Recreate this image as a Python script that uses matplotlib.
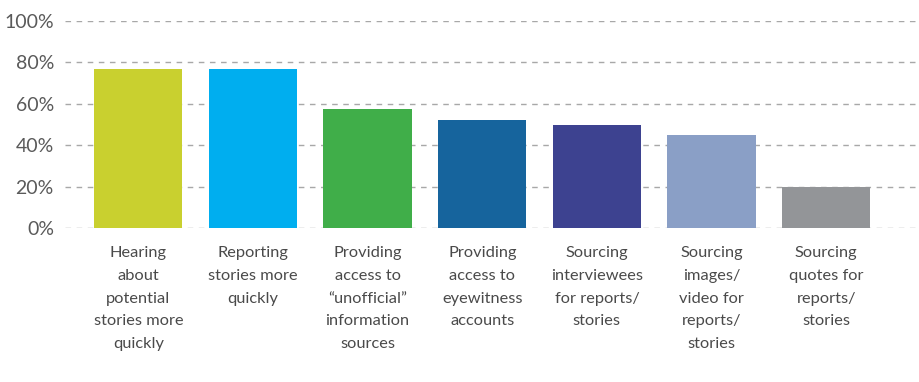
import matplotlib.pyplot as plt
from matplotlib.ticker import PercentFormatter

plt.rcParams['font.family'] = ['Lato', 'DejaVu Sans']

categories = [
    "Hearing\nabout\npotential\nstories more\nquickly",
    "Reporting\nstories more\nquickly",
    "Providing\naccess to\n\u201cunofficial\u201d\ninformation\nsources",
    "Providing\naccess to\neyewitness\naccounts",
    "Sourcing\ninterviewees\nfor reports/\nstories",
    "Sourcing\nimages/\nvideo for\nreports/\nstories",
    "Sourcing\nquotes for\nreports/\nstories",
]
values = [77, 77, 57.5, 52, 50, 45, 20]
colors = ['#C9D02F', '#00AEEF', '#40AE49', '#16649D', '#3D4290', '#8A9FC6', '#939598']

fig = plt.figure(figsize=(9.19, 3.82), dpi=100)
ax = fig.add_axes([65 / 919, 154 / 382, 1 - 65 / 919, (228 - 21) / 382])

x = range(len(values))
ax.bar(x, values, width=0.77, color=colors, zorder=2)

ax.set_ylim(0, 100)
ax.set_xlim(-0.64, 6.81)
ax.set_yticks([0, 20, 40, 60, 80, 100])
ax.yaxis.set_major_formatter(PercentFormatter(decimals=0))
ax.yaxis.grid(True, color='#A8A8A8', linestyle=(0, (4, 4)), linewidth=1, zorder=0)

ax.set_xticks(list(x))
ax.set_xticklabels(categories, fontsize=11.8, color='#4a4a4a', linespacing=1.8)
ax.tick_params(axis='x', length=0, pad=13)
ax.tick_params(axis='y', length=0, pad=8, labelsize=14, labelcolor='#5a5a5a')

for s in ax.spines.values():
    s.set_visible(False)

fig.savefig('out.png', dpi=100)
